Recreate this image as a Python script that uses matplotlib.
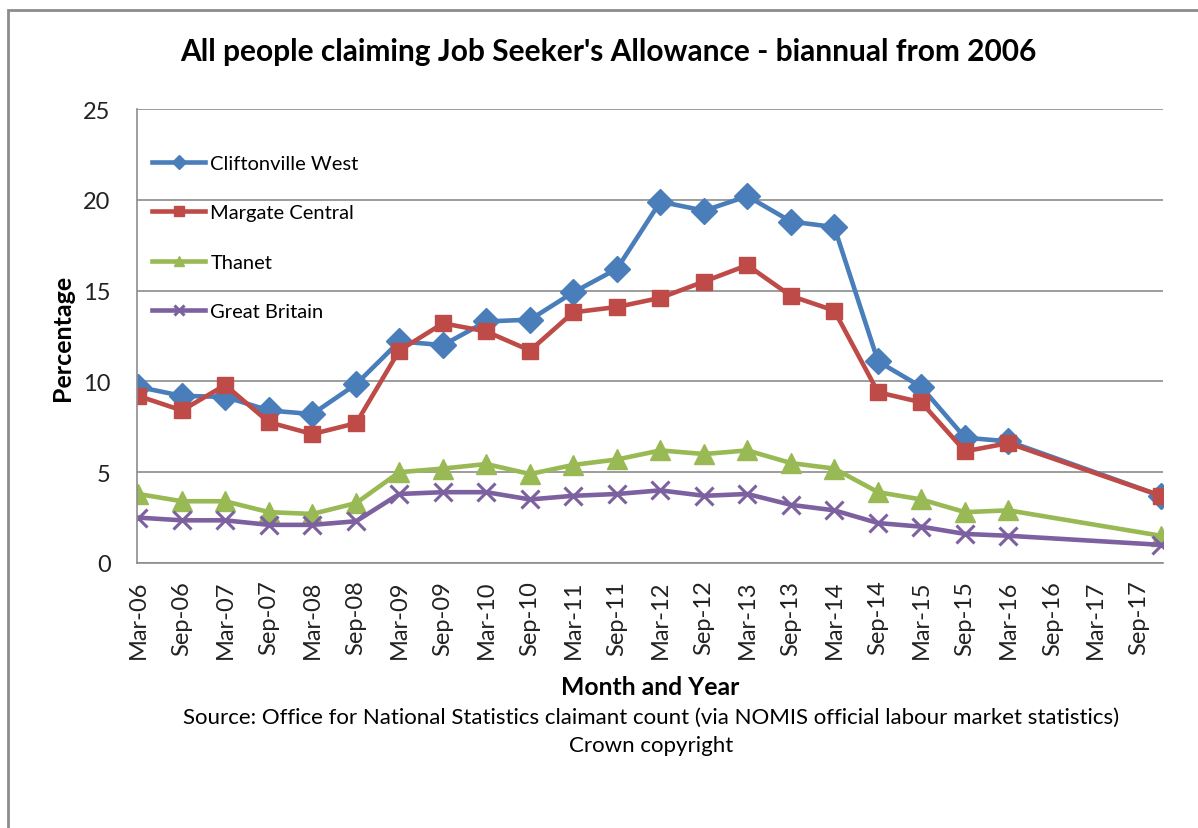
import matplotlib
matplotlib.use("Agg")
import matplotlib.pyplot as plt
from matplotlib.patches import Rectangle
import pandas as pd

plt.rcParams['font.family'] = ['Lato', 'DejaVu Sans']

dates = ["2006-03", "2006-09", "2007-03", "2007-09", "2008-03", "2008-09",
         "2009-03", "2009-09", "2010-03", "2010-09", "2011-03", "2011-09",
         "2012-03", "2012-09", "2013-03", "2013-09", "2014-03", "2014-09",
         "2015-03", "2015-09", "2016-03", "2017-12"]

cliftonville_west = [9.7, 9.2, 9.15, 8.4, 8.2, 9.85, 12.2, 12.0, 13.3, 13.4,
                     14.9, 16.2, 19.9, 19.4, 20.2, 18.8, 18.5, 11.1, 9.7, 6.9,
                     6.7, 3.7]
margate_central = [9.2, 8.4, 9.8, 7.75, 7.1, 7.7, 11.7, 13.2, 12.75, 11.7,
                   13.8, 14.1, 14.6, 15.5, 16.4, 14.7, 13.9, 9.4, 8.85, 6.15,
                   6.6, 3.7]
thanet = [3.8, 3.4, 3.4, 2.8, 2.7, 3.3, 5.0, 5.2, 5.45, 4.9,
          5.4, 5.7, 6.2, 6.0, 6.2, 5.5, 5.2, 3.9, 3.5, 2.8,
          2.9, 1.5]
great_britain = [2.5, 2.35, 2.35, 2.1, 2.1, 2.3, 3.8, 3.9, 3.9, 3.5,
                 3.7, 3.8, 4.0, 3.7, 3.8, 3.2, 2.9, 2.2, 2.0, 1.6,
                 1.5, 1.0]

series_names = ["Cliftonville West", "Margate Central", "Thanet", "Great Britain"]
tick_start, tick_end = "2006-03", "2017-09"

x = pd.to_datetime(dates)

fig = plt.figure(figsize=(11.98, 8.29), dpi=100)
ax = fig.add_axes([137/1198, 1-564/829, (1163-137)/1198, (564-110)/829])

styles = [
    dict(color="#4A7EBB", marker="D", ms=13.5),
    dict(color="#BE4B48", marker="s", ms=12),
    dict(color="#98B954", marker="^", ms=15),
    dict(color="#7D60A0", marker="x", ms=13, mew=2.2),
]
for vals, name, st in zip([cliftonville_west, margate_central, thanet, great_britain],
                          series_names, styles):
    ax.plot(x, vals, lw=3.3, label=name, color=st["color"], marker=st["marker"],
            ms=st["ms"], mew=st.get("mew", 1), mec=st["color"], mfc=st["color"])

ax.set_ylim(0, 25)
ax.set_yticks(range(0, 26, 5))
ax.yaxis.grid(True, color="#8c8c8c", lw=1.2)
ax.set_axisbelow(True)

ticks = pd.date_range(tick_start, tick_end, freq="6MS")
ax.set_xticks(ticks)
ax.set_xticklabels([t.strftime("%b-%y") for t in ticks], rotation=90, fontsize=17)
ax.set_xlim(pd.Timestamp("2006-02-24"), pd.Timestamp("2017-12-10"))
ax.tick_params(axis="both", length=0, colors="#222222")
ax.tick_params(axis="y", labelsize=17, pad=19)
ax.tick_params(axis="x", pad=12)

for s in ["top", "right"]:
    ax.spines[s].set_visible(False)
for s in ["left", "bottom"]:
    ax.spines[s].set_color("#8c8c8c")
    ax.spines[s].set_linewidth(1.2)

leg = ax.legend(loc="upper left", bbox_to_anchor=(152/1198, 1-156/829),
                bbox_transform=fig.transFigure, frameon=False, fontsize=14.5,
                handlelength=2.65, handletextpad=0.25, labelspacing=1.6,
                borderaxespad=0, borderpad=0)
for h in leg.legend_handles:
    h.set_markersize(7)

fig.text(0.508, 1-52/829, "All people claiming Job Seeker's Allowance - biannual from 2006",
         ha="center", va="center", fontsize=21.5, fontweight="bold")
fig.text(63/1198, 1-338/829, "Percentage", rotation=90, ha="center", va="center",
         fontsize=18, fontweight="bold")
fig.text(650/1198, 1-688/829, "Month and Year", ha="center", va="center",
         fontsize=17.8, fontweight="bold")
fig.text(651/1198, 1-718/829,
         "Source: Office for National Statistics claimant count (via NOMIS official labour market statistics)",
         ha="center", va="center", fontsize=16)
fig.text(651/1198, 1-746/829, "Crown copyright", ha="center", va="center", fontsize=16)

fig.patches.append(Rectangle((8/1198, -0.1), 1.2, 1 - 11/829 + 0.1, transform=fig.transFigure,
                             fill=False, edgecolor="#8c8c8c", lw=2))

fig.savefig("out.png", dpi=100)
